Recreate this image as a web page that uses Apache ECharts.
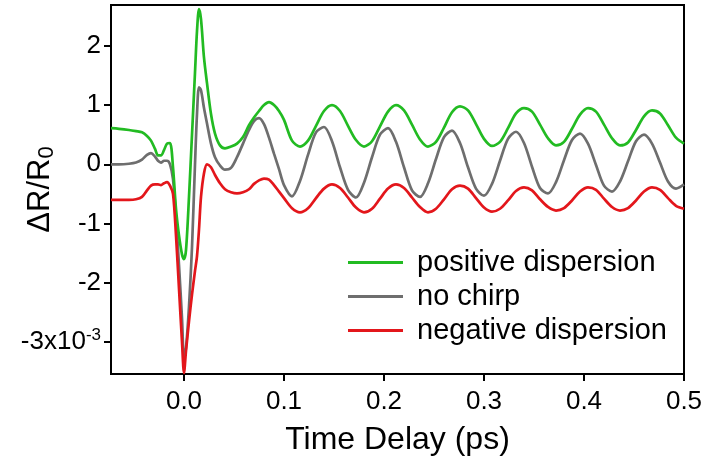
<!DOCTYPE html>
<html>
<head>
<meta charset="utf-8">
<script src="https://cdn.jsdelivr.net/npm/echarts@6/dist/echarts.min.js"></script>
<style>html,body{margin:0;padding:0;background:#fff;}#chart{width:704px;height:463px;}</style>
</head>
<body>
<div id="chart"></div>
<script>
// Time delay (ps)
var delay = [-0.073,-0.065,-0.055,-0.048,-0.042,-0.037,-0.033,-0.029,-0.026,-0.023,-0.020,-0.017,-0.014,-0.011,-0.008,-0.005,-0.002,0.000,0.002,0.005,0.008,0.011,0.013,0.015,0.017,0.020,0.023,0.027,0.031,0.036,0.041,0.047,0.053,0.059,0.065,0.070,0.075,0.080,0.085,0.090,0.095,
0.100,0.108,0.116,0.124,0.132,0.140,0.148,0.156,0.164,0.172,0.180,0.188,0.196,0.204,0.212,0.220,0.228,0.236,0.244,0.252,0.260,0.268,0.276,0.284,0.292,0.300,0.308,0.316,0.324,0.332,0.340,0.348,0.356,0.364,0.372,0.380,0.388,0.396,0.404,0.412,0.420,0.428,0.436,0.444,0.452,0.460,0.468,0.476,0.484,0.492,0.500];

// ΔR/R0 (x10^-3)
var positiveDispersion = [0.61,0.60,0.58,0.56,0.54,0.48,0.40,0.26,0.15,0.15,0.24,0.35,0.36,-0.05,-0.75,-1.2,-1.52,-1.6,-1.45,-0.55,0.5,1.55,2.25,2.62,2.45,1.8,1.37,0.85,0.52,0.32,0.27,0.30,0.35,0.46,0.66,0.79,0.90,1.0,1.05,1.0,0.90,
0.75,0.40,0.30,0.40,0.65,0.90,1.00,0.90,0.65,0.41,0.30,0.39,0.64,0.89,1.00,0.91,0.67,0.42,0.30,0.38,0.62,0.88,0.98,0.91,0.68,0.43,0.31,0.38,0.61,0.86,0.95,0.89,0.67,0.44,0.32,0.38,0.60,0.84,0.95,0.89,0.67,0.44,0.32,0.37,0.58,0.81,0.91,0.86,0.66,0.45,0.35];

var noChirp = [0.0,0.0,0.01,0.03,0.08,0.16,0.19,0.13,0.06,0.03,0.06,0.06,0.0,-0.25,-0.9,-1.7,-2.6,-3.25,-3.1,-2.4,-1.4,0.0,0.85,1.3,1.25,0.95,0.69,0.35,0.12,-0.02,-0.09,-0.06,0.12,0.35,0.58,0.73,0.78,0.68,0.45,0.18,-0.08,
-0.35,-0.54,-0.28,0.16,0.54,0.63,0.39,-0.05,-0.43,-0.56,-0.31,0.12,0.50,0.61,0.38,-0.05,-0.44,-0.55,-0.32,0.09,0.46,0.57,0.36,-0.05,-0.41,-0.53,-0.33,0.06,0.43,0.55,0.36,-0.04,-0.40,-0.49,-0.30,0.07,0.41,0.52,0.35,-0.01,-0.36,-0.46,-0.29,0.05,0.39,0.50,0.35,0.03,-0.29,-0.41,-0.34];

var negativeDispersion = [-0.60,-0.60,-0.60,-0.59,-0.55,-0.44,-0.36,-0.34,-0.34,-0.35,-0.32,-0.30,-0.36,-0.50,-1.2,-2.1,-3.0,-3.52,-3.15,-2.65,-2.2,-1.8,-1.55,-1.1,-0.55,-0.15,0.0,-0.05,-0.18,-0.32,-0.42,-0.47,-0.49,-0.47,-0.42,-0.33,-0.27,-0.24,-0.26,-0.35,-0.46,
-0.57,-0.74,-0.81,-0.74,-0.57,-0.41,-0.34,-0.40,-0.56,-0.73,-0.81,-0.75,-0.58,-0.41,-0.34,-0.40,-0.56,-0.72,-0.81,-0.75,-0.59,-0.42,-0.36,-0.41,-0.57,-0.73,-0.80,-0.75,-0.61,-0.45,-0.39,-0.44,-0.59,-0.72,-0.78,-0.74,-0.61,-0.46,-0.39,-0.43,-0.58,-0.72,-0.78,-0.74,-0.61,-0.46,-0.39,-0.43,-0.57,-0.70,-0.75];

var xTicks = [0.0,0.1,0.2,0.3,0.4,0.5];
var yTicks = [-3,-2,-1,0,1,2];
var seriesNames = ['positive dispersion','no chirp','negative dispersion'];

function pairs(ys){ return delay.map(function(x,i){ return [x, ys[i]]; }); }

var FONT = 'Liberation Sans, Arial, sans-serif';
var chart = echarts.init(document.getElementById('chart'), null, {renderer:'canvas'});
var lineW = 2.7;
chart.setOption({
  animation: false,
  backgroundColor: '#fff',
  grid: {left: 111, right: 20, top: 5, bottom: 89, containLabel: false, outerBoundsMode: 'none',
    show: true, borderColor: '#000', borderWidth: 2, backgroundColor: 'transparent'},
  legend: {
    orient: 'vertical', left: 348, top: 248, padding: 0,
    data: seriesNames,
    itemWidth: 55, itemHeight: 3, itemGap: 5, icon: 'rect',
    textStyle: {fontFamily: FONT, fontSize: 29, color: '#000', lineHeight: 27, padding: [0,0,0,9]}
  },
  xAxis: {
    type: 'value', min: -0.073, max: 0.5,
    name: 'Time Delay (ps)', nameLocation: 'middle', nameGap: 50, nameMoveOverlap: false,
    nameTextStyle: {fontFamily: FONT, fontSize: 32, color: '#000'},
    axisLine: {show: true, onZero: false, lineStyle: {color: '#000', width: 2}},
    axisTick: {show: true, inside: false, length: 7, lineStyle: {color: '#000', width: 2}, customValues: xTicks},
    axisLabel: {show: true, margin: 15, fontFamily: FONT, fontSize: 26, color: '#000', customValues: xTicks,
      formatter: function(v){ return v.toFixed(1); }},
    splitLine: {show: false}
  },
  yAxis: {
    type: 'value', min: -3.54, max: 2.69,
    name: 'ΔR/R{sub|0}', nameLocation: 'middle', nameRotate: 90, nameGap: 53, nameMoveOverlap: false,
    nameTextStyle: {fontFamily: FONT, fontSize: 31, color: '#000',
      rich: {sub: {fontFamily: FONT, fontSize: 22, color: '#000', verticalAlign: 'bottom', padding: [14,0,0,0]}}},
    axisLine: {show: true, onZero: false, lineStyle: {color: '#000', width: 2}},
    axisTick: {show: true, inside: false, length: 7, lineStyle: {color: '#000', width: 2}, customValues: yTicks},
    axisLabel: {show: true, margin: 10, fontFamily: FONT, fontSize: 26, color: '#000', customValues: yTicks,
      formatter: function(v){ return v === -3 ? '-3x10{sup|-3}' : String(v); },
      rich: {sup: {fontFamily: FONT, fontSize: 17, color: '#000', verticalAlign: 'top', padding: [0,0,14,0]}}},
    splitLine: {show: false}
  },
  series: [
    {name: 'no chirp', type: 'line', data: pairs(noChirp), symbol: 'none', smooth: 0.3, color: '#6e6e6e', lineStyle: {width: lineW, color: '#6e6e6e'}, z: 2},
    {name: 'positive dispersion', type: 'line', data: pairs(positiveDispersion), symbol: 'none', smooth: 0.3, color: '#22bb22', lineStyle: {width: lineW, color: '#22bb22'}, z: 3},
    {name: 'negative dispersion', type: 'line', data: pairs(negativeDispersion), symbol: 'none', smooth: 0.3, color: '#e3161b', lineStyle: {width: lineW, color: '#e3161b'}, z: 4}
  ]
});
</script>
</body>
</html>
